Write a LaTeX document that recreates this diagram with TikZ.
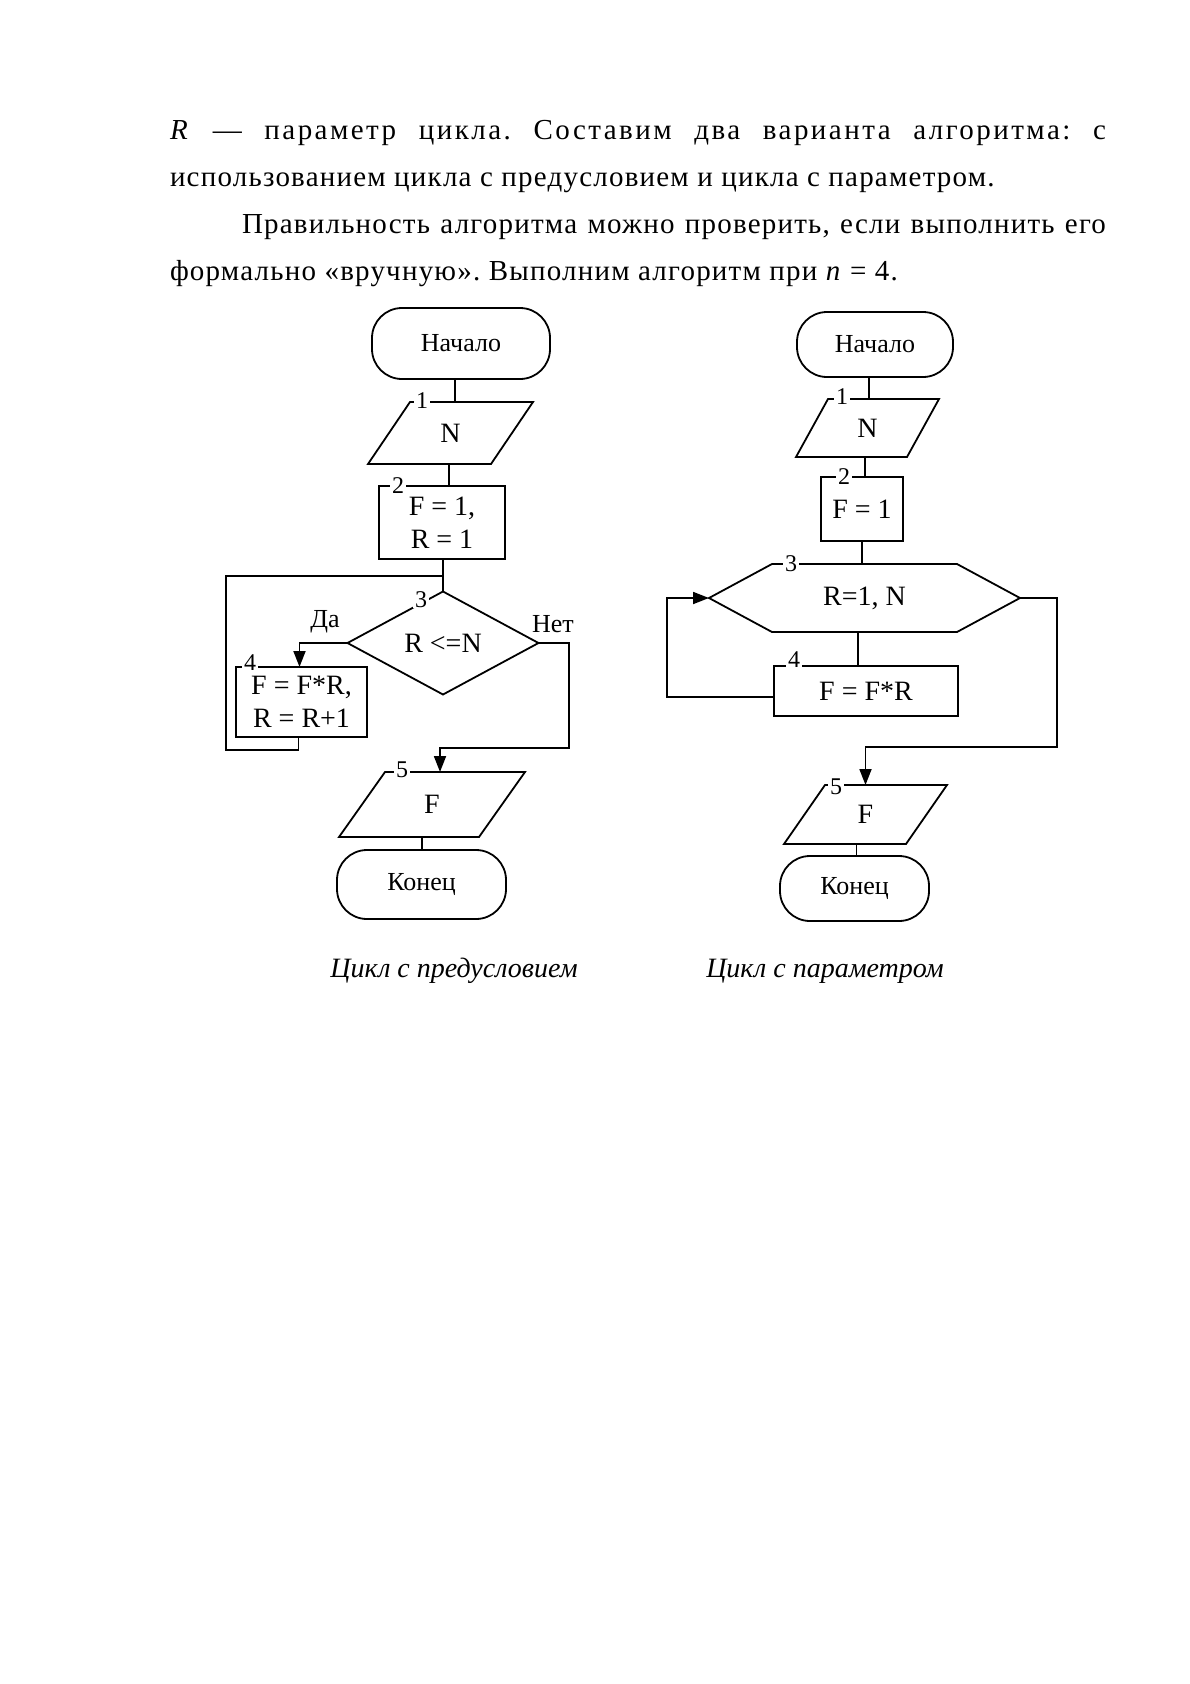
\documentclass[tikz,border=0pt]{standalone}
\usepackage{fontspec}
\setmainfont{Liberation Serif}
\newfontfamily\bodyfont{Liberation Serif}[LetterSpace=4.2]
\newfontfamily\bodywidefont{Liberation Serif}[LetterSpace=8.5]
\usetikzlibrary{arrows.meta,calc}
\frenchspacing
\begin{document}
\begin{tikzpicture}[x=1pt,y=-1pt,
  line width=1.8pt,
  every node/.style={inner sep=0pt,outer sep=0pt},
  ft/.style={font=\fontsize{26}{33}\selectfont},
  bigft/.style={font=\fontsize{28}{33}\selectfont},
  term/.style={draw,rounded corners=30pt,ft},
  procbox/.style={draw,bigft,align=center},
  shapebox/.style={bigft,align=center},
  numlab/.style={fill=white,inner xsep=2pt,inner ysep=0pt,font=\fontsize{24}{26}\selectfont},
  branchlab/.style={ft},
  arr/.style={-{Triangle[length=16pt,width=12pt]}},
  bodytext/.style={anchor=base west,font=\bodyfont\fontsize{29}{35}\selectfont},
  bodywide/.style={anchor=base west,font=\bodywidefont\fontsize{29}{35}\selectfont},
  caption/.style={anchor=base,font=\itshape\fontsize{28}{32}\selectfont}
]
\useasboundingbox (0,0) rectangle (1190,1684);
\fill[white] (0,0) rectangle (1190,1684);

% ---------- text ----------
\node[bodywide] (t1) at (170,139) {\makebox[936pt][s]{\textit{R} — параметр цикла. Составим два варианта алгоритма: с}};
\node[bodytext] (t2) at (170,186) {использованием цикла с предусловием и цикла с параметром.};
\node[bodytext] (t3) at (242,233) {\makebox[864pt][s]{Правильность алгоритма можно проверить, если выполнить его}};
\node[bodytext] (t4) at (170,280) {формально «вручную». Выполним алгоритм при \textit{n} = 4.};

% ---------- left flowchart ----------
\node[term,minimum width=178pt,minimum height=71pt] (L0) at (461,343.5) {Начало};
\node[shapebox,minimum width=165pt,minimum height=62pt] (L1) at (450.5,433) {N};
\draw ([xshift=42]L1.north west) -- (L1.north east) -- ([xshift=-42]L1.south east) -- (L1.south west) -- cycle;
\node[procbox,minimum width=126pt,minimum height=73pt] (L2) at (442,522.5) {F = 1,\\R = 1};
\node[shapebox,minimum width=191pt,minimum height=103pt] (L3) at (443,643) {R <=N};
\draw (L3.north) -- (L3.east) -- (L3.south) -- (L3.west) -- cycle;
\node[procbox,minimum width=131pt,minimum height=70pt] (L4) at (301.5,702) {F = F*R,\\R = R+1};
\node[shapebox,minimum width=186pt,minimum height=65pt] (L5) at (432,804.5) {F};
\draw ([xshift=46]L5.north west) -- (L5.north east) -- ([xshift=-46]L5.south east) -- (L5.south west) -- cycle;
\node[term,minimum width=169pt,minimum height=69pt] (L6) at (421.5,884.5) {Конец};

\coordinate (LlpA) at (226,750);
\coordinate (LlpB) at (226,576);
\coordinate (LnoA) at (569,748);

\draw ([xshift=-6]L0.south) -- ([xshift=-6]L0.south |- L1.north);
\draw ([xshift=-1.5]L1.south) -- ([xshift=-1.5]L1.south |- L2.north);
\draw (L3.north |- L2.south) -- (L3.north);
\draw ([xshift=-3]L4.south) |- (LlpA) -- (LlpB) -- (LlpB -| L3.north);
\draw[arr] (L3.west) -| ([xshift=-2]L4.north);
\draw[arr] (L3.east) -| (LnoA) -| ([xshift=8]L5.north);
\draw ([xshift=-10]L5.south) -- ([xshift=-10]L5.south |- L6.north);

\node[branchlab] (Lyes) at (325,622) {Да};
\node[branchlab] (Lno) at (553,624) {Нет};

\node[numlab] (Ln1) at (422,401) {1};
\node[numlab] (Ln2) at (398,486) {2};
\node[numlab] (Ln3) at (421,600) {3};
\node[numlab] (Ln4) at (250,663) {4};
\node[numlab] (Ln5) at (402,770) {5};

% ---------- right flowchart ----------
\node[term,minimum width=156pt,minimum height=65pt] (R0) at (875,344.5) {Начало};
\node[shapebox,minimum width=143pt,minimum height=58pt] (R1) at (867.5,428) {N};
\draw ([xshift=32]R1.north west) -- (R1.north east) -- ([xshift=-32]R1.south east) -- (R1.south west) -- cycle;
\node[procbox,minimum width=82pt,minimum height=64pt] (R2) at (862,509) {F = 1};
\node[shapebox,minimum width=311pt,minimum height=68pt] (R3) at (864.5,598) {R=1, N};
\draw (R3.west) -- ([xshift=63]R3.north west) -- ([xshift=-63]R3.north east) -- (R3.east) -- ([xshift=-63]R3.south east) -- ([xshift=63]R3.south west) -- cycle;
\node[procbox,minimum width=184pt,minimum height=50pt] (R4) at (866,691) {F = F*R};
\node[shapebox,minimum width=163pt,minimum height=59pt] (R5) at (865.5,814.5) {F};
\draw ([xshift=41]R5.north west) -- (R5.north east) -- ([xshift=-41]R5.south east) -- (R5.south west) -- cycle;
\node[term,minimum width=149pt,minimum height=65pt] (R6) at (854.5,888.5) {Конец};

\coordinate (RlpA) at (667,697);
\coordinate (RexA) at (1057,747);

\draw ([xshift=-6]R0.south) -- ([xshift=-6]R0.south |- R1.north);
\draw ([xshift=-2.5]R1.south) -- ([xshift=-2.5]R1.south |- R2.north);
\draw (R2.south) -- (R2.south |- R3.north);
\draw ([xshift=-6.5]R3.south) -- ([xshift=-6.5]R3.south |- R4.north);
\draw[arr] ([yshift=-6]R4.west) -- (RlpA) |- (R3.west);
\draw[arr] (R3.east) -| (RexA) -| (R5.north);
\draw ([xshift=-9]R5.south) -- ([xshift=-9]R5.south |- R6.north);

\node[numlab] (Rn1) at (842,397) {1};
\node[numlab] (Rn2) at (844,477) {2};
\node[numlab] (Rn3) at (791,564) {3};
\node[numlab] (Rn4) at (794,660) {4};
\node[numlab] (Rn5) at (836,787) {5};

% ---------- captions ----------
\node[caption] (c1) at (454,977) {Цикл с предусловием};
\node[caption] (c2) at (825,977) {Цикл с параметром};
\end{tikzpicture}
\end{document}
